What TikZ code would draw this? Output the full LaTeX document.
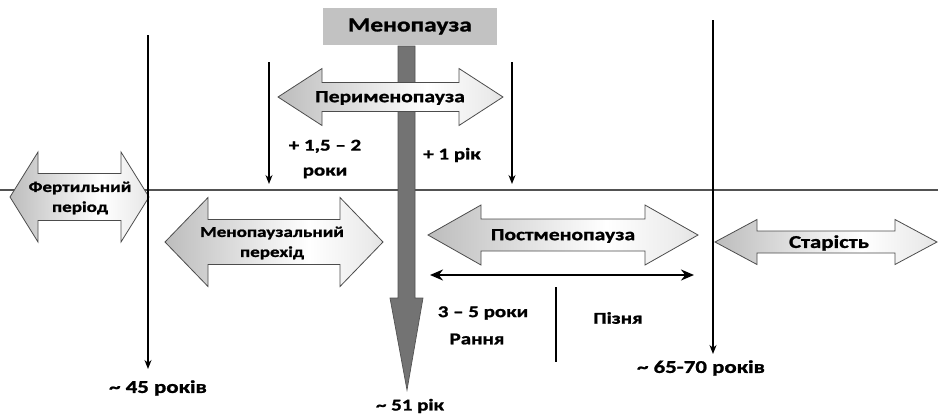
\documentclass[tikz,border=0pt]{standalone}
\usepackage{fontspec}
\setmainfont{Carlito}[FakeStretch=1.27, BoldFeatures={FakeBold=1.2}]
\usetikzlibrary{arrows.meta}
\pgfdeclarehorizontalshading{blkshade}{100bp}{color(0bp)=(black!48); color(20bp)=(black!30); color(58bp)=(white); color(72bp)=(black!8); color(100bp)=(black!42)}
\newcommand\dblarr[7]{% name, lx, rx, cy, L, H, S
  \path[blockarr] (#2,#4) -- (#2+#5,#4-#6) -- (#2+#5,#4-#7) -- (#3-#5,#4-#7) -- (#3-#5,#4-#6)
    -- (#3,#4) -- (#3-#5,#4+#6) -- (#3-#5,#4+#7) -- (#2+#5,#4+#7) -- (#2+#5,#4+#6) -- cycle;}
\tikzset{
  blockarr/.style={draw=black!70, line width=0.8pt, shading=blkshade, shading angle=0},
  lbl/.style={font=\bfseries\fontsize{15}{20}\selectfont, align=center, inner sep=0pt},
  vline/.style={black, line width=1.3pt, -{Stealth[length=9pt,width=7pt]}},
}
\begin{document}
\begin{tikzpicture}[x=1pt,y=-1pt]
\useasboundingbox (0,0) rectangle (938,416);
% horizontal time line
\coordinate (hl) at (0,190);
\coordinate (hr) at (938,190);
\draw[line width=2.8pt, black!68] (hl) -- (hr);
% menopause box
\node[fill=black!24, minimum width=174pt, minimum height=37pt, inner sep=0pt,
      font=\bfseries\fontsize{20}{22}\selectfont] (meno) at (410,26.5) {Менопауза};
% gray vertical arrow
\path[fill=black!55, draw=black!68, line width=0.7pt]
  (398,46) -- (415,46) -- (415,298) -- (423,298) -- (407,390) -- (390,298) -- (398,298) -- cycle;
\coordinate (m51) at (407,390);
% block arrows
\dblarr{fert}{10}{149}{197}{28}{45}{23.5}
\dblarr{trans}{165}{383}{242}{43}{44.5}{22.5}
\dblarr{peri}{278}{503}{97}{44}{28.5}{14.5}
\dblarr{post}{428}{698}{235}{53}{30}{16}
\dblarr{old}{715}{937}{242}{42}{22.5}{11}
\node[lbl] (tfert) at (80,198) {Фертильний\\період};
\node[lbl] (ttrans) at (272,243) {Менопаузальний\\перехід};
\node[lbl, font=\bfseries\fontsize{17}{19}\selectfont] (tperi) at (390,98) {Перименопауза};
\node[lbl, font=\bfseries\fontsize{17}{19}\selectfont] (tpost) at (563,236) {Постменопауза};
\node[lbl, font=\bfseries\fontsize{18}{20}\selectfont] (told) at (829,243) {Старість};
% vertical arrows
\coordinate (v45t) at (148,35);
\coordinate (v45b) at (148,369);
\coordinate (v65t) at (713,20);
\coordinate (v65b) at (713,354);
\coordinate (a1t) at (269,62);
\coordinate (a1b) at (269,184);
\coordinate (a2t) at (512,62);
\coordinate (a2b) at (512,184);
\draw[vline] (v45t) -- (v45b);
\draw[vline] (v65t) -- (v65b);
\draw[vline] (a1t) -- (a1b);
\draw[vline] (a2t) -- (a2b);
% postmenopause span
\coordinate (sl) at (430,275);
\coordinate (sr) at (694,275);
\draw[line width=2.6pt, {Stealth[length=13pt,width=11pt]}-{Stealth[length=13pt,width=11pt]}] (sl) -- (sr);
\coordinate (dt) at (556,287);
\coordinate (db) at (556,362);
\draw[line width=2.4pt] (dt) -- (db);
% labels
\node[lbl, font=\bfseries\fontsize{16.5}{25}\selectfont] (l15) at (325,159) {+ 1,5 – 2\\роки};
\node[lbl, font=\bfseries\fontsize{16.5}{18}\selectfont] (l1) at (452,155) {+ 1 рік};
\node[lbl, font=\bfseries\fontsize{16.5}{18}\selectfont] (l35) at (483,313) {3 – 5 роки};
\node[lbl, font=\bfseries\fontsize{16.5}{18}\selectfont] (lr) at (477,339) {Рання};
\node[lbl, font=\bfseries\fontsize{16.5}{18}\selectfont] (lp) at (618,318) {Пізня};
\node[lbl, font=\bfseries\fontsize{18}{20}\selectfont] (l45) at (158,388) {\textasciitilde{} 45 років};
\node[lbl, font=\bfseries\fontsize{18}{20}\selectfont] (l65) at (701,368) {\textasciitilde{} 65-70 років};
\node[lbl, font=\bfseries\fontsize{16.5}{18}\selectfont] (l51) at (410,406) {\textasciitilde{} 51 рік};
\end{tikzpicture}
\end{document}
